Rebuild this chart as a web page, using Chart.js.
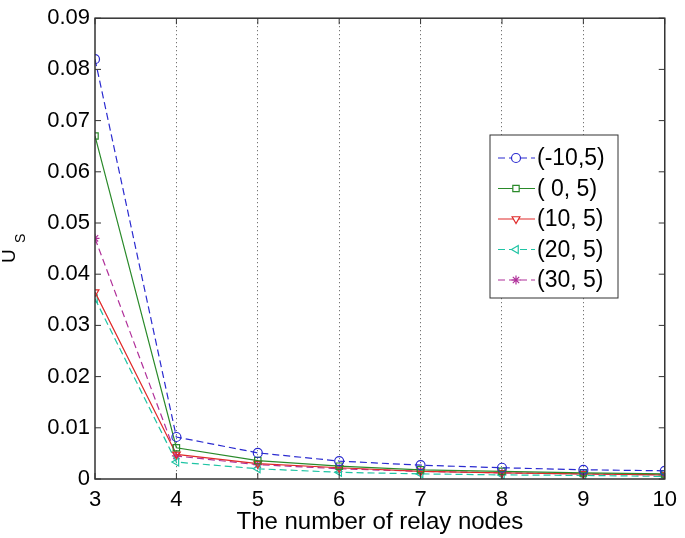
<!DOCTYPE html>
<html>
<head>
<meta charset="utf-8">
<script src="https://cdn.jsdelivr.net/npm/chart.js@4"></script>
<style>
  html, body { margin: 0; padding: 0; background: #fff; }
  #wrap { width: 685px; height: 538px; }
</style>
</head>
<body>
<div id="wrap"><canvas id="myChart" width="685" height="538"></canvas></div>
<script>
// relay nodes on the x axis
const relayNodes = [3, 4, 5, 6, 7, 8, 9, 10];
const seriesNames = ['(-10,5)', '( 0, 5)', '(10, 5)', '(20, 5)', '(30, 5)'];
const usM10 = [0.082, 0.0082, 0.0051, 0.0035, 0.0027, 0.0022, 0.0018, 0.0016];
const us0   = [0.067, 0.0061, 0.0036, 0.0025, 0.0018, 0.0015, 0.0012, 0.0010];
const us10  = [0.0365, 0.0048, 0.0030, 0.0022, 0.0015, 0.0012, 0.0010, 0.0008];
const us20  = [0.0352, 0.0033, 0.0020, 0.0013, 0.0010, 0.0008, 0.0007, 0.0005];
const us30  = [0.047, 0.0045, 0.0028, 0.0020, 0.0015, 0.0012, 0.0010, 0.0008];
const yTicks = [0, 0.01, 0.02, 0.03, 0.04, 0.05, 0.06, 0.07, 0.08, 0.09];

const FONT = 'Liberation Sans, Arial, sans-serif';

function pts(vals) {
  return vals.map((v, i) => ({ x: relayNodes[i], y: v }));
}

const styles = [
  { color: '#2b2bd0', dash: [7, 4], point: 'circle', rot: 0 },
  { color: '#2a8a2a', dash: [], point: 'rect', rot: 0 },
  { color: '#e02a2a', dash: [], point: 'triangle', rot: 180 },
  { color: '#1fc4a4', dash: [7, 4], point: 'triangle', rot: -90 },
  { color: '#b0309a', dash: [7, 4], point: 'star', rot: 0 }
];
const allVals = [usM10, us0, us10, us20, us30];

const datasets = allVals.map((vals, i) => ({
  label: seriesNames[i],
  data: pts(vals),
  borderColor: styles[i].color,
  backgroundColor: 'rgba(0,0,0,0)',
  borderWidth: 1.2,
  borderDash: styles[i].dash,
  pointStyle: styles[i].point,
  pointRotation: styles[i].rot,
  pointRadius: 4.5,
  pointBorderColor: styles[i].color,
  pointBorderWidth: 1.2,
  pointBackgroundColor: 'rgba(0,0,0,0)',
  tension: 0
}));

// frame, inward ticks, y title and the legend box
const extras = {
  id: 'extras',
  afterDraw(chart) {
    const c = chart.ctx;
    const a = chart.chartArea;
    const xs = chart.scales.x, ys = chart.scales.y;
    c.save();
    c.strokeStyle = '#333';
    c.lineWidth = 1.5;
    c.setLineDash([]);
    c.strokeRect(a.left, a.top, a.right - a.left, a.bottom - a.top);
    c.lineWidth = 1;
    relayNodes.forEach(n => {
      const px = xs.getPixelForValue(n);
      c.beginPath();
      c.moveTo(px, a.bottom); c.lineTo(px, a.bottom - 6);
      c.moveTo(px, a.top); c.lineTo(px, a.top + 6);
      c.stroke();
    });
    yTicks.forEach(v => {
      const py = ys.getPixelForValue(v);
      c.beginPath();
      c.moveTo(a.left, py); c.lineTo(a.left + 6, py);
      c.moveTo(a.right, py); c.lineTo(a.right - 6, py);
      c.stroke();
    });

    // y title U_S
    c.save();
    c.translate(15, 263);
    c.rotate(-Math.PI / 2);
    c.fillStyle = '#000';
    c.textBaseline = 'alphabetic';
    c.textAlign = 'left';
    c.font = '19px ' + FONT;
    c.fillText('U', 0, 0);
    c.font = '14px ' + FONT;
    c.fillText('S', 20, 10);
    c.restore();

    // legend
    const lx = 490, ly = 135, lw = 128, lh = 163;
    c.fillStyle = '#fff';
    c.fillRect(lx, ly, lw, lh);
    c.strokeStyle = '#333';
    c.lineWidth = 1;
    c.strokeRect(lx, ly, lw, lh);
    c.font = '23px ' + FONT;
    c.textBaseline = 'middle';
    chart.data.datasets.forEach((ds, i) => {
      const y = ly + 23 + i * 30.5;
      c.strokeStyle = ds.borderColor;
      c.lineWidth = 1.2;
      c.setLineDash(ds.borderDash);
      c.beginPath();
      c.moveTo(lx + 8, y); c.lineTo(lx + 45, y);
      c.stroke();
      c.setLineDash([]);
      c.fillStyle = '#fff';
      Chart.helpers.drawPoint(c, {
        pointStyle: ds.pointStyle, rotation: ds.pointRotation,
        radius: 4.5, borderWidth: 1.2
      }, lx + 26, y);
      c.fillStyle = '#000';
      c.fillText(ds.label, lx + 47, y + 1);
    });
    c.restore();
  }
};

const ctx = document.getElementById('myChart').getContext('2d');
const myChart = new Chart(ctx, {
  type: 'line',
  data: { datasets: datasets },
  options: {
    responsive: false,
    animation: false,
    layout: { padding: { top: 10, right: 13, left: 0, bottom: 0 } },
    plugins: { legend: { display: false }, tooltip: { enabled: false } },
    scales: {
      x: {
        type: 'linear',
        min: 3, max: 10,
        afterFit: s => { s.height = 59; },
        afterBuildTicks: s => { s.ticks = relayNodes.map(v => ({ value: v })); },
        grid: {
          drawTicks: false,
          color: ctx => (ctx.tick && (ctx.tick.value === 3 || ctx.tick.value === 10)) ? 'rgba(0,0,0,0)' : '#555',
          lineWidth: 1
        },
        border: { display: false, dash: [1, 3] },
        ticks: {
          color: '#000', padding: 8,
          font: { family: FONT, size: 22 },
          callback: v => String(v)
        },
        title: {
          display: true, text: 'The number of relay nodes', color: '#000',
          font: { family: FONT, size: 24 }, padding: { top: 0, bottom: 1 }
        }
      },
      y: {
        min: 0, max: 0.09,
        afterFit: s => { s.width = 95; },
        afterBuildTicks: s => { s.ticks = yTicks.map(v => ({ value: v })); },
        grid: { display: false, drawTicks: false },
        border: { display: false },
        ticks: {
          color: '#000', padding: 5,
          font: { family: FONT, size: 22 },
          callback: v => (v === 0 ? '0' : v.toFixed(2))
        }
      }
    }
  },
  plugins: [extras]
});
</script>
</body>
</html>
